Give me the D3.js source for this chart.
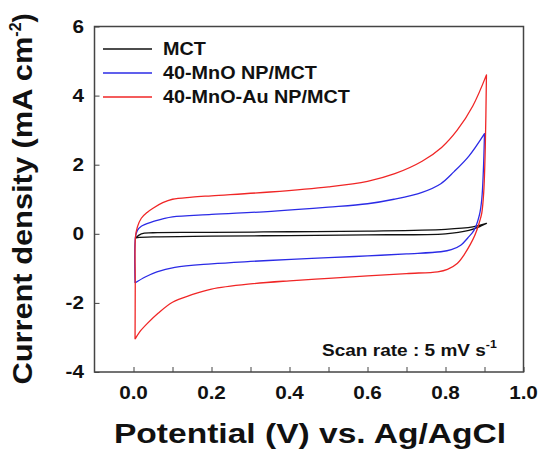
<!DOCTYPE html>
<html>
<head>
<meta charset="utf-8">
<script src="https://cdn.jsdelivr.net/npm/d3@7"></script>
<style>
  body { margin: 0; background: #fff; }
  text { font-family: "Liberation Sans", Arial, sans-serif; font-weight: bold; fill: #111; }
</style>
</head>
<body>
<div id="chart"></div>
<script>
// series names + colors
const seriesNames = ["MCT", "40-MnO NP/MCT", "40-MnO-Au NP/MCT"];
const seriesColors = ["#111111", "#2b2be6", "#f02626"];

// [potential V, current density mA cm-2], forward scan then reverse scan
const mctForward = [[0.005,-0.12],[0.02,0.0],[0.05,0.03],[0.2,0.04],[0.4,0.06],[0.6,0.08],[0.8,0.13],[0.87,0.2],[0.905,0.3]];
const mctReverse = [[0.905,0.3],[0.89,0.22],[0.86,0.1],[0.8,0.0],[0.6,-0.03],[0.4,-0.05],[0.2,-0.07],[0.05,-0.09],[0.01,-0.11],[0.005,-0.12]];

const mnoForward = [[0.004,-1.42],[0.005,-0.1],[0.01,0.1],[0.02,0.22],[0.046,0.34],[0.075,0.43],[0.1,0.49],[0.2,0.56],[0.353,0.65],[0.5,0.77],[0.6,0.87],[0.668,1.0],[0.74,1.2],[0.788,1.45],[0.822,1.8],[0.86,2.25],[0.9,2.9]];
const mnoReverse = [[0.9,2.9],[0.897,1.8],[0.893,1.0],[0.887,0.55],[0.873,0.1],[0.857,-0.12],[0.839,-0.33],[0.815,-0.46],[0.788,-0.52],[0.7,-0.58],[0.6,-0.64],[0.5,-0.69],[0.404,-0.74],[0.3,-0.8],[0.2,-0.87],[0.106,-0.97],[0.06,-1.1],[0.03,-1.25],[0.004,-1.42]];

const auForward = [[0.004,-3.05],[0.0045,-1.5],[0.005,-0.1],[0.01,0.2],[0.02,0.45],[0.035,0.62],[0.05,0.74],[0.075,0.9],[0.1,1.0],[0.15,1.06],[0.2,1.1],[0.35,1.21],[0.5,1.36],[0.6,1.52],[0.67,1.74],[0.74,2.1],[0.79,2.5],[0.83,3.0],[0.87,3.7],[0.905,4.6]];
const auReverse = [[0.905,4.6],[0.902,2.5],[0.898,1.2],[0.893,0.6],[0.886,0.3],[0.875,-0.05],[0.864,-0.3],[0.848,-0.6],[0.83,-0.86],[0.805,-1.03],[0.78,-1.1],[0.7,-1.15],[0.6,-1.22],[0.5,-1.29],[0.4,-1.36],[0.3,-1.45],[0.2,-1.6],[0.148,-1.77],[0.1,-1.98],[0.063,-2.3],[0.035,-2.6],[0.015,-2.85],[0.004,-3.05]];

const xTicks = [0, 0.1, 0.2, 0.3, 0.4, 0.5, 0.6, 0.7, 0.8, 0.9, 1.0];
const xTickLabels = ["0.0", "0.2", "0.4", "0.6", "0.8", "1.0"];
const yTicks = [-4, -2, 0, 2, 4, 6];

const curves = [
  mctForward.concat(mctReverse),
  mnoForward.concat(mnoReverse),
  auForward.concat(auReverse)
];

const W = 543, H = 457;
const box = { left: 94.5, right: 523.5, top: 26.5, bottom: 372 };

const svg = d3.select("#chart").append("svg")
  .attr("width", W).attr("height", H);

const x = d3.scaleLinear().domain([-0.1, 1.0]).range([box.left, box.right]);
const y = d3.scaleLinear().domain([-4, 6]).range([box.bottom, box.top]);

// curves
const line = d3.line()
  .x(d => x(d[0])).y(d => y(d[1]))
  .curve(d3.curveCatmullRom.alpha(0.5));
curves.forEach((c, i) => {
  svg.append("path")
    .attr("d", line(c))
    .attr("fill", "none")
    .attr("stroke", seriesColors[i])
    .attr("stroke-width", 1.3)
    .attr("stroke-linejoin", "round");
});

// ticks (inward)
svg.append("g")
  .attr("transform", `translate(0,${box.bottom})`)
  .call(d3.axisBottom(x).tickValues(xTicks).tickSizeInner(-5).tickSizeOuter(0).tickFormat(""))
  .call(g => g.select(".domain").remove())
  .selectAll("line").attr("stroke", "#444");

svg.append("g")
  .attr("transform", `translate(${box.left},0)`)
  .call(d3.axisLeft(y).tickValues(yTicks).tickSizeInner(-5).tickSizeOuter(0).tickFormat(""))
  .call(g => g.select(".domain").remove())
  .selectAll("line").attr("stroke", "#444");

// frame
svg.append("rect")
  .attr("x", box.left).attr("y", box.top)
  .attr("width", box.right - box.left).attr("height", box.bottom - box.top)
  .attr("fill", "none").attr("stroke", "#444").attr("stroke-width", 1.5);

// tick labels
svg.selectAll(".xlab")
  .data(xTickLabels)
  .enter().append("text")
  .attr("transform", d => `translate(${x(+d)},399) scale(1.15,1)`)
  .attr("text-anchor", "middle")
  .style("font-size", "18px")
  .text(d => d);

svg.selectAll(".ylab")
  .data(yTicks)
  .enter().append("text")
  .attr("transform", d => `translate(84,${y(d) + 6}) scale(1.15,1)`)
  .attr("text-anchor", "end")
  .style("font-size", "18px")
  .text(d => d);

// axis titles
svg.append("text")
  .attr("x", 310).attr("y", 443)
  .attr("text-anchor", "middle")
  .attr("textLength", 392).attr("lengthAdjust", "spacingAndGlyphs")
  .style("font-size", "27px")
  .text("Potential (V) vs. Ag/AgCl");

const yt = svg.append("text")
  .attr("transform", "translate(32,199) rotate(-90)")
  .attr("text-anchor", "middle")
  .style("font-size", "27px");
yt.append("tspan").attr("textLength", 348).attr("lengthAdjust", "spacingAndGlyphs").text("Current density (mA cm");
yt.append("tspan").attr("dy", -11).style("font-size", "16px").text("-2");
yt.append("tspan").attr("dy", 11).text(")");

// legend
const legend = svg.append("g");
seriesNames.forEach((name, i) => {
  const ly = 49 + i * 24;
  legend.append("line")
    .attr("x1", 103).attr("x2", 152)
    .attr("y1", ly).attr("y2", ly)
    .attr("stroke", seriesColors[i]).attr("stroke-width", 1.3);
  legend.append("text")
    .attr("transform", `translate(163,${ly + 6}) scale(1.1,1)`)
    .style("font-size", "18px")
    .text(name);
});

// scan rate note
const note = svg.append("text")
  .attr("transform", "translate(322,356) scale(1.12,1)")
  .style("font-size", "17px");
note.append("tspan").text("Scan rate : 5 mV s");
note.append("tspan").attr("dy", -8).style("font-size", "11px").text("-1");
</script>
</body>
</html>
